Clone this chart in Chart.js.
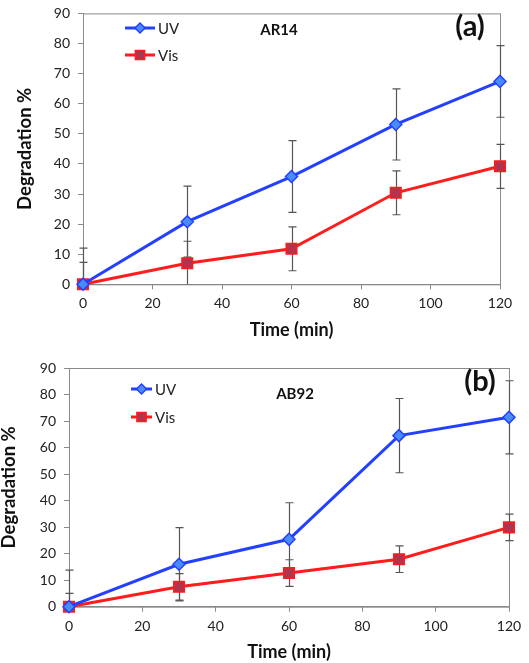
<!DOCTYPE html>
<html>
<head>
<meta charset="utf-8">
<script src="https://cdn.jsdelivr.net/npm/chart.js@4.4.1/dist/chart.umd.min.js"></script>
<style>
  html, body { margin: 0; padding: 0; background: #fff; }
  body { width: 529px; height: 663px; position: relative; overflow: hidden; }
  .box { position: absolute; left: 0; width: 529px; }
  #boxA { top: -3px; height: 348px; }
  #boxB { top: 340px; height: 323px; }
</style>
</head>
<body>
<div class="box" id="boxA"><canvas id="chartA"></canvas></div>
<div class="box" id="boxB"><canvas id="chartB"></canvas></div>
<script>
// time points (min)
const times = [0, 30, 60, 90, 120];

// (a) AR14
const uvA = [0, 20.8, 35.8, 53.1, 67.4];
const visA = [0, 7.0, 11.8, 30.4, 39.2];
const uvErrA = [12, 11.8, 11.9, 11.8, 11.9];
const visErrA = [7.3, 7.3, 7.3, 7.3, 7.3];

// (b) AB92
const uvB = [0, 16.0, 25.4, 64.5, 71.4];
const visB = [0, 7.5, 12.7, 17.9, 29.9];
const uvErrB = [13.8, 13.8, 13.8, 14.0, 13.8];
const visErrB = [5, 5, 5, 5, 5];

const yTicks = [0, 10, 20, 30, 40, 50, 60, 70, 80, 90];
const xTicks = [0, 20, 40, 60, 80, 100, 120];

const FONT = 'Lato, "Open Sans", sans-serif';
const UV_LINE = '#2440ff';
const UV_FILL = '#4a8cf7';
const VIS_LINE = '#ff1c1c';
const VIS_FILL = '#b3324c';
const AXIS = '#8a8a8a';

const pts = (ys) => times.map((t, i) => ({x: t, y: ys[i]}));

// box round the plot area + error bars behind the markers
const frameAndErrors = {
  id: 'frameAndErrors',
  beforeDatasetsDraw(chart, args, opts) {
    const {ctx, chartArea: a, scales: {x, y}} = chart;
    ctx.save();
    ctx.strokeStyle = AXIS;
    ctx.lineWidth = 1;
    ctx.strokeRect(a.left + 0.5, a.top + 0.5, a.right - a.left, a.bottom - a.top);

    ctx.beginPath();
    ctx.rect(a.left - 10, a.top, a.right - a.left + 20, a.bottom - a.top);
    ctx.clip();
    ctx.strokeStyle = '#555';
    ctx.lineWidth = 1.2;
    opts.errors.forEach((err, k) => {
      const ys = chart.data.datasets[k].data;
      ys.forEach((p, i) => {
        const px = Math.round(x.getPixelForValue(p.x)) + 0.5;
        const top = y.getPixelForValue(p.y + err[i]);
        const bot = y.getPixelForValue(p.y - err[i]);
        ctx.beginPath();
        ctx.moveTo(px, top); ctx.lineTo(px, bot);
        ctx.moveTo(px - 4, top); ctx.lineTo(px + 4, top);
        ctx.moveTo(px - 4, bot); ctx.lineTo(px + 4, bot);
        ctx.stroke();
      });
    });
    ctx.restore();
  }
};

// legend inside the plot + dye name and panel letter
const inlineLabels = {
  id: 'inlineLabels',
  afterDatasetsDraw(chart, args, opts) {
    const {ctx} = chart;
    ctx.save();
    const items = [
      {label: 'UV', line: UV_LINE, fill: UV_FILL, style: 'rectRot', r: 5, y: opts.legendY[0]},
      {label: 'Vis', line: VIS_LINE, fill: VIS_FILL, style: 'rect', r: 6.5, y: opts.legendY[1]}
    ];
    items.forEach(it => {
      ctx.strokeStyle = it.line;
      ctx.lineWidth = 3;
      ctx.beginPath();
      ctx.moveTo(opts.legendX[0], it.y);
      ctx.lineTo(opts.legendX[1], it.y);
      ctx.stroke();
      ctx.fillStyle = it.fill;
      ctx.lineWidth = 1.5;
      Chart.helpers.drawPoint(ctx, {pointStyle: it.style, radius: it.r, borderWidth: 1.5},
        (opts.legendX[0] + opts.legendX[1]) / 2, it.y);
      ctx.fillStyle = '#222';
      ctx.font = '15px ' + FONT;
      ctx.textAlign = 'left';
      ctx.textBaseline = 'middle';
      ctx.fillText(it.label, opts.legendX[1] + 3, it.y + 1);
    });
    ctx.fillStyle = '#111';
    ctx.textAlign = 'center';
    ctx.textBaseline = 'middle';
    ctx.font = 'bold 15px ' + FONT;
    ctx.fillText(opts.name, opts.nameX, opts.nameY);
    ctx.font = 'bold 29px ' + FONT;
    ctx.fillText(opts.panel, opts.panelX, opts.panelY);
    ctx.restore();
  }
};

function makeChart(id, uv, vis, uvErr, visErr, cfg) {
  return new Chart(document.getElementById(id), {
    type: 'line',
    data: {
      datasets: [{
        label: 'UV',
        data: pts(uv),
        borderColor: UV_LINE,
        backgroundColor: UV_FILL,
        pointBackgroundColor: UV_FILL,
        pointBorderColor: UV_LINE,
        pointStyle: 'rectRot',
        pointRadius: 6,
        pointBorderWidth: 1.5,
        borderWidth: 3,
        clip: false
      }, {
        label: 'Vis',
        data: pts(vis),
        borderColor: VIS_LINE,
        backgroundColor: VIS_FILL,
        pointBackgroundColor: VIS_FILL,
        pointBorderColor: VIS_LINE,
        pointStyle: 'rect',
        pointRadius: 7.5,
        pointBorderWidth: 1.5,
        borderWidth: 3,
        clip: false
      }]
    },
    options: {
      responsive: true,
      maintainAspectRatio: false,
      animation: false,
      layout: {
        padding: {top: cfg.padTop, right: cfg.padRight, left: 0, bottom: 0}
      },
      plugins: {
        legend: {display: false},
        tooltip: {enabled: false},
        frameAndErrors: {errors: [uvErr, visErr]},
        inlineLabels: cfg.labels
      },
      scales: {
        x: {
          type: 'linear',
          min: 0,
          max: 120,
          afterBuildTicks: (s) => { s.ticks = xTicks.map(v => ({value: v})); },
          afterFit: (s) => { s.height = cfg.xHeight; },
          border: {color: AXIS},
          grid: {drawOnChartArea: false, drawTicks: true, tickLength: 5, color: AXIS},
          ticks: {color: '#222', font: {family: FONT, size: 14}, padding: 6},
          title: {
            display: true,
            text: 'Time (min)',
            color: '#111',
            font: {family: FONT, size: 18, weight: 'bold', lineHeight: 1},
            padding: {top: 0, bottom: cfg.xTitlePad}
          }
        },
        y: {
          min: 0,
          max: 90,
          afterBuildTicks: (s) => { s.ticks = yTicks.map(v => ({value: v})); },
          afterFit: (s) => { s.width = cfg.yWidth; },
          border: {color: AXIS},
          grid: {drawOnChartArea: false, drawTicks: true, tickLength: 5, color: AXIS},
          ticks: {color: '#222', font: {family: FONT, size: 14}, padding: 8},
          title: {
            display: true,
            text: 'Degradation %',
            color: '#111',
            font: {family: FONT, size: 18.5, weight: 'bold', lineHeight: 1},
            padding: {top: cfg.yTitlePad, bottom: 0}
          }
        }
      }
    },
    plugins: [frameAndErrors, inlineLabels]
  });
}

makeChart('chartA', uvA, visA, uvErrA, visErrA, {
  padTop: 0, padRight: 29, xHeight: 60.7, yWidth: 83, xTitlePad: 6, yTitlePad: 16,
  labels: {legendX: [125, 155], legendY: [31, 58], name: 'AR14', nameX: 279, nameY: 33,
           panel: '(a)', panelX: 470, panelY: 30}
});

makeChart('chartB', uvB, visB, uvErrB, visErrB, {
  padTop: 28, padRight: 20, xHeight: 56.3, yWidth: 69, xTitlePad: 2, yTitlePad: 0,
  labels: {legendX: [131, 152], legendY: [49, 77], name: 'AB92', nameX: 295, nameY: 54,
           panel: '(b)', panelX: 480, panelY: 42}
});
</script>
</body>
</html>
